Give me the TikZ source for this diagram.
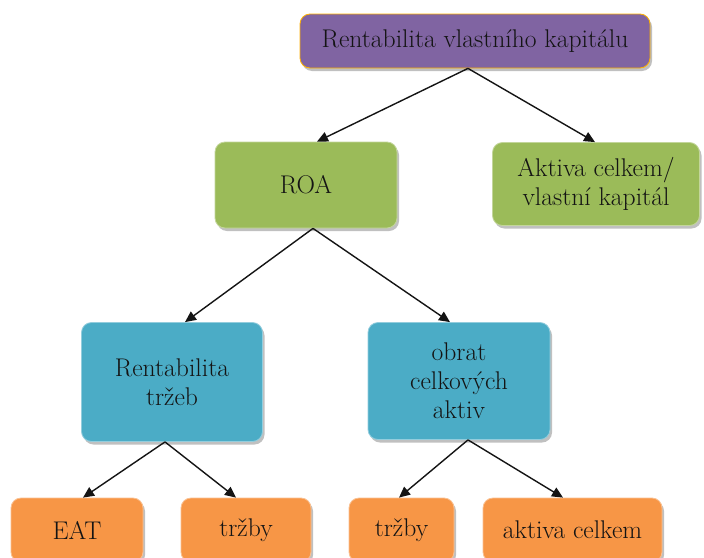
\documentclass[tikz,border=0pt]{standalone}
\usetikzlibrary{arrows.meta,shadows}
\definecolor{cpurple}{HTML}{8064A2}
\definecolor{cgreen}{HTML}{9BBB59}
\definecolor{cblue}{HTML}{4BACC6}
\definecolor{corange}{HTML}{F79646}
\definecolor{ctext}{HTML}{141414}
\tikzset{
  box/.style={rectangle, rounded corners=10pt, align=center, inner sep=0pt,
    text=ctext, font=\rmfamily\fontsize{25.6}{29}\selectfont, line width=0.8pt,
    drop shadow={shadow xshift=2pt, shadow yshift=-3pt, fill=black!35, opacity=0.7}},
  conn/.style={draw=ctext, line width=1.4pt, -{Triangle[length=11pt,width=10pt]}}
}
\begin{document}
\begin{tikzpicture}[x=1pt,y=1pt]
\useasboundingbox (0,0) rectangle (704,-557);
\clip (0,0) rectangle (704,-557);
\fill[white] (0,0) rectangle (704,-557);
\node[box, fill=cpurple, draw=orange!60!yellow, minimum width=350pt, minimum height=54pt] (top) at (475,-41) {Rentabilita vlastního kapitálu};
\node[box, fill=cgreen, draw=cgreen!60!white, minimum width=182pt, minimum height=86pt] (roa) at (306,-185) {ROA};
\node[box, fill=cgreen, draw=cgreen!60!white, minimum width=207pt, minimum height=83pt] (akt) at (596,-184) {Aktiva celkem/\\vlastní kapitál};
\node[box, fill=cblue, draw=cblue!60!white, minimum width=181pt, minimum height=119pt] (rent) at (172,-382) {Rentabilita\\tržeb};
\node[box, fill=cblue, draw=cblue!60!white, minimum width=182pt, minimum height=117pt] (obr) at (459,-381) {obrat\\celkových\\aktiv};
\node[box, fill=corange, draw=corange!60!white, minimum width=132pt, minimum height=64pt] (eat) at (77,-530) {EAT};
\node[box, fill=corange, draw=corange!60!white, minimum width=130pt, minimum height=64pt] (trz1) at (246,-530) {tržby};
\node[box, fill=corange, draw=corange!60!white, minimum width=105pt, minimum height=64pt] (trz2) at (401.5,-530) {tržby};
\node[box, fill=corange, draw=corange!60!white, minimum width=179pt, minimum height=64pt] (ac) at (572.5,-530) {aktiva celkem};
\draw[conn] ([xshift=-7pt]top.south) -- ([xshift=11pt]roa.north);
\draw[conn] ([xshift=-7pt]top.south) -- ([xshift=-1pt]akt.north);
\draw[conn] ([xshift=7pt]roa.south) -- ([xshift=13pt]rent.north);
\draw[conn] ([xshift=7pt]roa.south) -- ([xshift=-9pt]obr.north);
\draw[conn] ([xshift=-7pt]rent.south) -- ([xshift=6pt]eat.north);
\draw[conn] ([xshift=-7pt]rent.south) -- ([xshift=-10pt]trz1.north);
\draw[conn] ([xshift=9pt]obr.south) -- ([xshift=-2.5pt]trz2.north);
\draw[conn] ([xshift=9pt]obr.south) -- ([xshift=-9.5pt]ac.north);
\end{tikzpicture}
\end{document}
